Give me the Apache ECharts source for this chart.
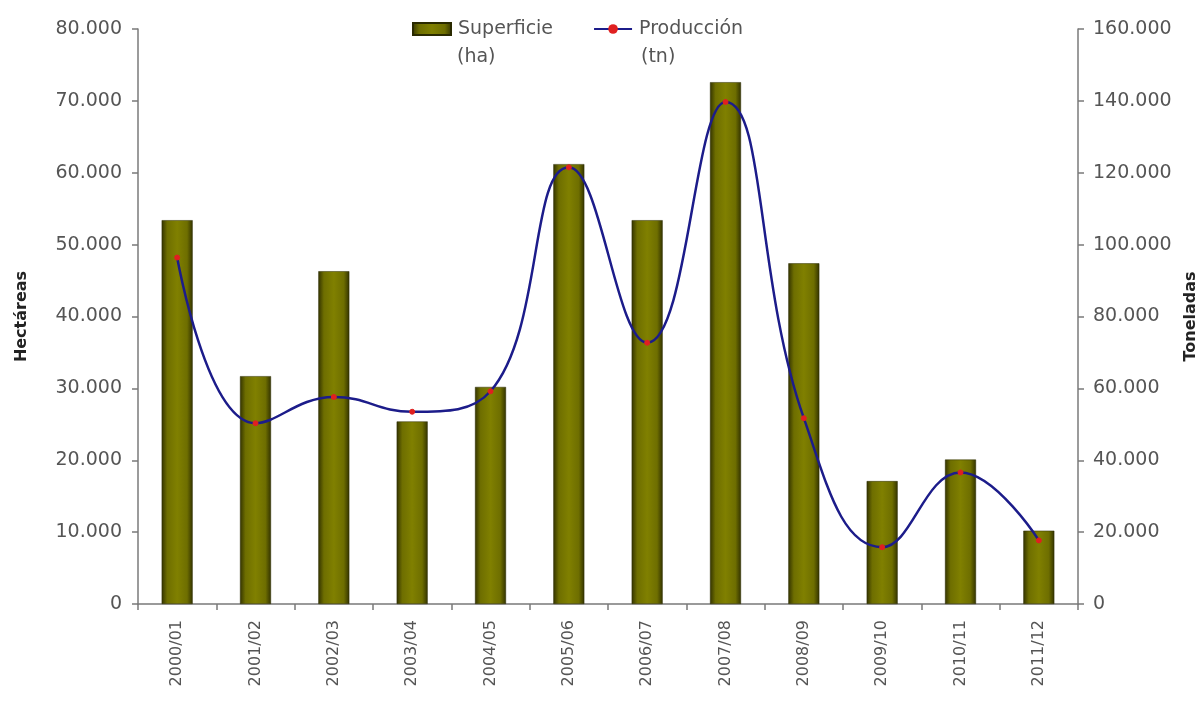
<!DOCTYPE html>
<html>
<head>
<meta charset="utf-8">
<script src="https://cdn.jsdelivr.net/npm/echarts@6/dist/echarts.min.js"></script>
<style>html,body{margin:0;padding:0;background:#fff;overflow:hidden}#c{width:1197px;height:707px}</style>
</head>
<body>
<div id="c"></div>
<script>
const categories = ['2000/01','2001/02','2002/03','2003/04','2004/05','2005/06','2006/07','2007/08','2008/09','2009/10','2010/11','2011/12'];
const superficie = [53400, 31700, 46300, 25400, 30200, 61200, 53400, 72600, 47400, 17100, 20100, 10200];
const produccion = [96400, 50300, 57600, 53500, 59200, 121500, 72700, 139700, 51700, 15800, 36600, 17700];
const leftTicks = {min: 0, max: 80000, interval: 10000};
const rightTicks = {min: 0, max: 160000, interval: 20000};
const seriesNames = ['Superficie', 'Producción'];
const seriesUnits = ['(ha)', '(tn)'];

const fmt = v => String(v).replace(/\B(?=(\d{3})+(?!\d))/g, '.');
const chart = echarts.init(document.getElementById('c'));
const FONT = 'DejaVu Sans';
const axisLine = {show: true, lineStyle: {color: '#7a7a7a', width: 1.5}};
const axisTick = {show: true, length: 6, lineStyle: {color: '#7a7a7a', width: 1.5}};
const barGrad = new echarts.graphic.LinearGradient(0, 0, 1, 0, [
  {offset: 0, color: '#333300'},
  {offset: 0.18, color: '#6e6e00'},
  {offset: 0.5, color: '#808000'},
  {offset: 0.82, color: '#6e6e00'},
  {offset: 1, color: '#333300'}
]);
chart.setOption({
  backgroundColor: '#ffffff',
  textStyle: {fontFamily: FONT},
  legend: {
    top: 14, left: 407, itemWidth: 38, itemHeight: 12, itemGap: 40,
    textStyle: {fontFamily: FONT, fontSize: 19, color: '#555', lineHeight: 20, padding: [0, 0, 0, 2]},
    data: [{name: seriesNames[0], icon: 'rect'}, {name: seriesNames[1]}]
  },
  graphic: [
    {type: 'text', left: 457, top: 48, style: {text: seriesUnits[0], font: '19px "DejaVu Sans"', fill: '#555'}},
    {type: 'text', left: 641, top: 48, style: {text: seriesUnits[1], font: '19px "DejaVu Sans"', fill: '#555'}}
  ],
  grid: {left: 138, right: 119, top: 29, bottom: 103, outerBoundsMode: 'none', containLabel: false},
  xAxis: {
    type: 'category', data: categories, boundaryGap: true,
    axisLine: axisLine, axisTick: axisTick,
    axisLabel: {rotate: 90, color: '#555', fontSize: 16, fontFamily: FONT, margin: 16}
  },
  yAxis: [{
    type: 'value', position: 'left', min: leftTicks.min, max: leftTicks.max, interval: leftTicks.interval,
    name: 'Hectáreas', nameLocation: 'middle', nameRotate: 90, nameGap: 108,
    nameTextStyle: {fontFamily: FONT, fontWeight: 'bold', fontSize: 16, color: '#222'},
    axisLine: axisLine, axisTick: axisTick, splitLine: {show: false},
    axisLabel: {color: '#555', fontSize: 19, fontFamily: FONT, margin: 16, formatter: fmt}
  }, {
    type: 'value', position: 'right', min: rightTicks.min, max: rightTicks.max, interval: rightTicks.interval,
    name: 'Toneladas', nameLocation: 'middle', nameRotate: 90, nameGap: 90,
    nameTextStyle: {fontFamily: FONT, fontWeight: 'bold', fontSize: 16, color: '#222'},
    axisLine: axisLine, axisTick: axisTick, splitLine: {show: false},
    axisLabel: {color: '#555', fontSize: 19, fontFamily: FONT, margin: 15, formatter: fmt}
  }],
  series: [{
    name: seriesNames[0], type: 'bar', yAxisIndex: 0, data: superficie, barWidth: 31,
    itemStyle: {color: barGrad, borderColor: '#2a2a00', borderWidth: 0.5}
  }, {
    name: seriesNames[1], type: 'line', yAxisIndex: 1, data: produccion, smooth: 0.45,
    symbol: 'circle', symbolSize: 5,
    lineStyle: {color: '#1c1c8a', width: 2.5},
    itemStyle: {color: '#e02020', borderColor: '#e02020'}
  }]
});
</script>
</body>
</html>
